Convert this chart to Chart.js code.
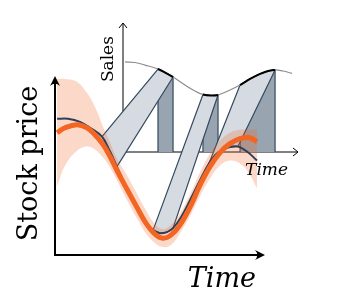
<!DOCTYPE html>
<html lang="en">
<head>
<meta charset="UTF-8" />
<title>Stock price and sales</title>
<script src="https://cdn.jsdelivr.net/npm/chart.js"></script>
<style>
  html, body { margin: 0; padding: 0; background: #fff; }
  #wrap { width: 359px; height: 305px; }
</style>
</head>
<body>
<div id="wrap"><canvas id="chart" width="359" height="305"></canvas></div>
<script>
// main plot: time vs stock price, both axes run 0..10
const stockTime  = [0.10, 0.62, 1.19, 1.67, 2.24, 2.62, 2.95, 3.33, 3.81, 4.29, 4.67, 5.00,
                    5.33, 5.62, 6.00, 6.43, 6.90, 7.33, 7.76, 8.24, 8.71, 9.14, 9.62];
const stockPrice = [7.61, 7.61, 7.44, 7.11, 6.61, 5.78, 4.94, 3.94, 2.83, 1.89, 1.39, 1.22,
                    1.28, 1.50, 2.11, 3.06, 4.17, 5.11, 5.72, 6.00, 6.06, 5.78, 5.28];

const trendTime  = [0.10, 0.48, 1.05, 1.52, 1.90, 2.29, 2.62, 2.95, 3.43, 3.90, 4.33, 4.76,
                    5.14, 5.52, 5.95, 6.43, 6.90, 7.38, 7.86, 8.33, 8.81, 9.24, 9.62];
const trendPrice = [6.83, 7.11, 7.28, 7.11, 6.72, 6.17, 5.50, 4.72, 3.67, 2.67, 1.78, 1.17,
                    0.94, 1.11, 1.67, 2.67, 3.89, 4.94, 5.72, 6.22, 6.50, 6.56, 6.33];
const trendUpper = [9.83, 9.83, 9.67, 9.06, 8.28, 7.17, 6.28, 5.39, 4.44, 3.44, 2.50, 1.72,
                    1.44, 1.67, 2.33, 3.39, 4.61, 5.67, 6.39, 6.83, 7.00, 7.00, 7.00];
const trendLower = [3.83, 5.00, 5.83, 6.06, 5.89, 5.44, 4.89, 4.17, 3.06, 2.06, 1.22, 0.67,
                    0.44, 0.56, 1.22, 2.17, 3.28, 4.28, 5.00, 5.28, 5.11, 4.56, 3.72];

// inset: time vs sales, both axes run 0..10
const salesTime  = [0.11, 0.69, 1.26, 2.00, 2.46, 2.86, 3.54, 4.11, 4.57, 5.03, 5.43, 6.00,
                    6.69, 7.26, 7.83, 8.29, 8.69, 9.14, 9.66];
const salesValue = [6.98, 6.94, 6.74, 6.43, 6.12, 5.81, 5.19, 4.73, 4.46, 4.38, 4.42, 4.73,
                    5.19, 5.66, 6.05, 6.28, 6.36, 6.28, 6.09];

// sales windows and the stock stretch each one is linked to
const salesFrom = [2.00, 4.57, 6.69];
const salesTo   = [2.86, 5.43, 8.69];
const stockFrom = [2.24, 4.67, 7.33];
const stockTo   = [2.95, 5.62, 8.71];

const W = 359, H = 305;
const NAVY = "#2e4058";
const EDGE = "#34495e";

// scale limits so that [lo, hi] lands on the given pixels of a full-size chart area
function xRange(lo, hi, pxLo, pxHi) {
  const k = (hi - lo) / (pxHi - pxLo);
  return { min: lo - pxLo * k, max: hi + (W - pxHi) * k };
}
function yRange(lo, hi, pxLo, pxHi) {
  const k = (hi - lo) / (pxLo - pxHi);
  return { min: lo - (H - pxLo) * k, max: hi + pxHi * k };
}

const pts = (xs, ys) => xs.map((x, i) => ({ x: x, y: ys[i] }));

function windowPoints(i) {
  const a = salesTime.indexOf(salesFrom[i]);
  const b = salesTime.indexOf(salesTo[i]);
  const top = pts(salesTime.slice(a, b + 1), salesValue.slice(a, b + 1));
  return [{ x: salesFrom[i], y: 0 }, ...top, { x: salesTo[i], y: 0 }];
}

function inWindow(t0, t1) {
  return salesFrom.some((f, i) => t0 >= f && t1 <= salesTo[i]);
}

const datasets = [
  { // 0 trend line
    data: pts(trendTime, trendPrice), borderColor: "#f26522", borderWidth: 5,
    tension: 0.4, order: 1, xAxisID: "x", yAxisID: "y"
  },
  { // 1 stock price
    data: pts(stockTime, stockPrice), borderColor: NAVY, borderWidth: 2,
    tension: 0.4, order: 2, xAxisID: "x", yAxisID: "y"
  },
  { // 2 band upper edge, filled down to the lower edge
    data: pts(trendTime, trendUpper), borderWidth: 0, fill: "+1",
    backgroundColor: "rgba(242,101,34,0.25)", tension: 0.4, order: 3,
    xAxisID: "x", yAxisID: "y"
  },
  { // 3 band lower edge
    data: pts(trendTime, trendLower), borderWidth: 0, tension: 0.4, order: 3,
    xAxisID: "x", yAxisID: "y"
  },
  { // 4 sales curve
    data: pts(salesTime, salesValue), borderColor: "#8d8d8d", borderWidth: 1.2,
    tension: 0.4, order: 5, xAxisID: "xs", yAxisID: "ys",
    segment: {
      borderColor: (c) => inWindow(salesTime[c.p0DataIndex], salesTime[c.p1DataIndex]) ? "#000" : "#8d8d8d",
      borderWidth: (c) => inWindow(salesTime[c.p0DataIndex], salesTime[c.p1DataIndex]) ? 2 : 1.2
    }
  }
];
salesFrom.forEach((f, i) => {
  datasets.push({
    data: windowPoints(i), fill: "origin", backgroundColor: "#98a4b0",
    borderColor: EDGE, borderWidth: 1.2, tension: 0, order: 6,
    xAxisID: "xs", yAxisID: "ys"
  });
});

function arrowHead(ctx, x0, y0, x1, y1, len, half, filled) {
  const a = Math.atan2(y1 - y0, x1 - x0);
  const c = Math.cos(a), s = Math.sin(a);
  const bx = x1 - c * len, by = y1 - s * len;
  ctx.beginPath();
  if (filled) {
    ctx.moveTo(x1, y1);
    ctx.lineTo(bx - s * half, by + c * half);
    ctx.quadraticCurveTo(x1 - c * len * 0.55, y1 - s * len * 0.55, bx + s * half, by - c * half);
    ctx.closePath();
    ctx.fill();
  } else {
    ctx.moveTo(bx - s * half, by + c * half);
    ctx.lineTo(x1, y1);
    ctx.lineTo(bx + s * half, by - c * half);
    ctx.stroke();
  }
}

function axisLine(ctx, x0, y0, x1, y1, width, len, half, filled) {
  ctx.save();
  ctx.strokeStyle = "#000";
  ctx.fillStyle = "#000";
  ctx.lineWidth = width;
  ctx.beginPath();
  ctx.moveTo(x0, y0);
  ctx.lineTo(filled ? x1 - (x1 - x0 && Math.sign(x1 - x0) * len * 0.5) : x1,
             filled ? y1 - (y1 - y0 && Math.sign(y1 - y0) * len * 0.5) : y1);
  ctx.stroke();
  ctx.lineWidth = filled ? 1 : width;
  arrowHead(ctx, x0, y0, x1, y1, len, half, filled);
  ctx.restore();
}

const diagram = {
  id: "diagram",
  beforeDatasetsDraw(chart) {
    const { ctx, scales } = chart;
    const ox = scales.xs.getPixelForValue(0), oy = scales.ys.getPixelForValue(0);
    axisLine(ctx, ox, oy, ox, scales.ys.getPixelForValue(10), 1, 5, 4, false);
    axisLine(ctx, ox, oy, scales.xs.getPixelForValue(10), oy, 1, 5, 4, false);
  },
  beforeDatasetDraw(chart, args) {
    if (args.index !== 4) return;
    const { ctx, scales } = chart;
    ctx.save();
    ctx.fillStyle = "#d5dbe1";
    ctx.strokeStyle = EDGE;
    ctx.lineWidth = 1.2;
    ctx.lineJoin = "round";
    stockFrom.forEach((f, i) => {
      const a = stockTime.indexOf(f), b = stockTime.indexOf(stockTo[i]);
      const c = salesTime.indexOf(salesFrom[i]), d = salesTime.indexOf(salesTo[i]);
      ctx.beginPath();
      for (let k = a; k <= b; k++) {
        ctx.lineTo(scales.x.getPixelForValue(stockTime[k]), scales.y.getPixelForValue(stockPrice[k]));
      }
      for (let k = d; k >= c; k--) {
        ctx.lineTo(scales.xs.getPixelForValue(salesTime[k]), scales.ys.getPixelForValue(salesValue[k]));
      }
      ctx.closePath();
      ctx.fill();
      ctx.stroke();
    });
    ctx.restore();
  },
  afterDatasetsDraw(chart) {
    const { ctx, scales } = chart;
    const ox = scales.x.getPixelForValue(0), oy = scales.y.getPixelForValue(0);
    axisLine(ctx, ox, oy + 1, ox, scales.y.getPixelForValue(10), 2, 10, 5, true);
    axisLine(ctx, ox - 1, oy, scales.x.getPixelForValue(10), oy, 2, 10, 5, true);

    ctx.save();
    ctx.fillStyle = "#000";
    ctx.textBaseline = "alphabetic";

    ctx.font = '27px "DejaVu Serif"';
    ctx.save();
    ctx.translate(ox - 18, (oy + scales.y.getPixelForValue(10)) / 2 - 2);
    ctx.rotate(-Math.PI / 2);
    ctx.textAlign = "center";
    ctx.fillText("Stock price", 0, 0);
    ctx.restore();

    ctx.font = 'italic 27px "DejaVu Serif"';
    ctx.textAlign = "right";
    ctx.fillText("Time", scales.x.getPixelForValue(10) - 9, oy + 32);

    const sx = scales.xs.getPixelForValue(0), sy = scales.ys.getPixelForValue(0);
    ctx.font = '17px "DejaVu Serif"';
    ctx.save();
    ctx.translate(sx - 10, scales.ys.getPixelForValue(7.2));
    ctx.rotate(-Math.PI / 2);
    ctx.textAlign = "center";
    ctx.fillText("Sales", 0, 0);
    ctx.restore();

    ctx.font = 'italic 17px "DejaVu Serif"';
    ctx.textAlign = "right";
    ctx.fillText("Time", scales.xs.getPixelForValue(10) - 10, sy + 23);
    ctx.restore();
  }
};

const mainX = xRange(0, 10, 55, 265), mainY = yRange(0, 10, 255, 76);
const insetX = xRange(0, 10, 123, 298), insetY = yRange(0, 10, 152, 23);

new Chart(document.getElementById("chart"), {
  type: "line",
  data: { datasets: datasets },
  options: {
    responsive: false,
    animation: false,
    layout: { padding: 0 },
    elements: { point: { radius: 0 }, line: { borderCapStyle: "butt" } },
    plugins: { legend: { display: false }, tooltip: { enabled: false } },
    scales: {
      x:  { type: "linear", display: false, min: mainX.min, max: mainX.max },
      y:  { type: "linear", display: false, min: mainY.min, max: mainY.max },
      xs: { type: "linear", display: false, min: insetX.min, max: insetX.max },
      ys: { type: "linear", display: false, min: insetY.min, max: insetY.max }
    }
  },
  plugins: [diagram]
});
</script>
</body>
</html>
